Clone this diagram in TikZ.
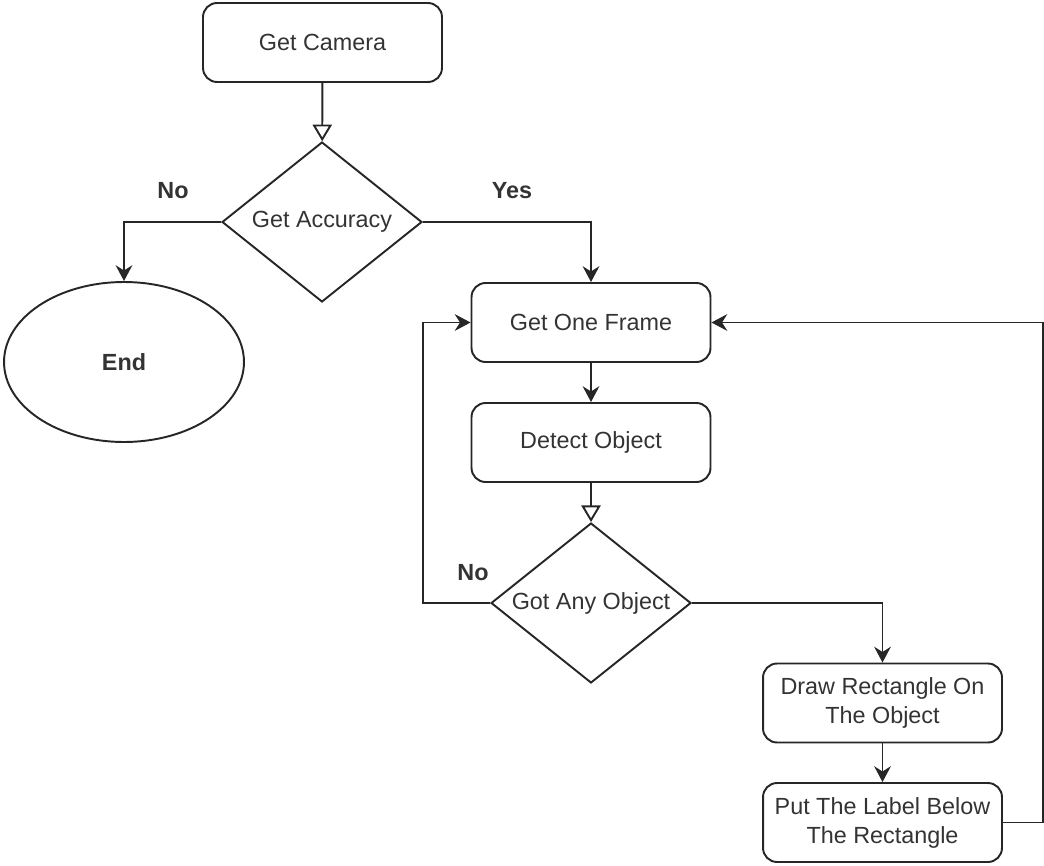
\documentclass[tikz,border=0pt]{standalone}
\usepackage{fontspec}
\setmainfont{Liberation Sans}
\usetikzlibrary{shapes.geometric,arrows.meta}

\tikzset{
  box/.style={draw, rounded corners=8pt, minimum width=4.78cm, minimum height=1.58cm, align=center, inner sep=2pt},
  choice/.style={draw, diamond, minimum width=4cm, minimum height=3.2cm, inner sep=0pt, aspect=1.25},
  flow/.style={-{Stealth[length=9pt,width=9.5pt,inset=3pt]}},
  hollow/.style={-{Triangle[open,length=9.5pt,width=11pt]}},
  answer/.style={font=\fontsize{13.3}{16}\selectfont\bfseries}
}

\begin{document}
\begin{tikzpicture}[x=0.02cm, y=-0.02cm, line width=1.1pt, draw=black!85, text=black!80,
  every node/.append style={font=\fontsize{13.3}{16.5}\selectfont}]
\useasboundingbox (0,0) rectangle (1044,865);

\node[box] (camera) at (322.5,42.5) {Get Camera};
\node[choice] (accuracy) at (322,222) {Get Accuracy};
\node[draw, ellipse, minimum width=4.8cm, minimum height=3.2cm, font=\fontsize{13.3}{16}\selectfont\bfseries] (end) at (124,362) {End};
\node[box] (frame) at (591,322.5) {Get One Frame};
\node[box] (detect) at (591,442.5) {Detect Object};
\node[choice] (anyobj) at (591,603) {Got Any Object};
\node[box] (drawrect) at (882.5,703) {Draw Rectangle On\\The Object};
\node[box] (putlabel) at (882.5,822.5) {Put The Label Below\\The Rectangle};

\node[answer] (no1) at (173,191) {No};
\node[answer] (yes) at (512,191) {Yes};
\node[answer] (no2) at (473,573) {No};

\draw[hollow] (camera) -- (accuracy);
\draw[flow] (accuracy.west) -| (end.north);
\draw[flow] (accuracy.east) -| (frame.north);
\draw[flow] (frame) -- (detect);
\draw[hollow] (detect) -- (anyobj);
\draw[flow] (anyobj.west) -- ++(-67,0) |- (frame.west);
\draw[flow] (anyobj.east) -| (drawrect.north);
\draw[flow] (drawrect) -- (putlabel);
\draw[flow] (putlabel.east) -- ++(40,0) |- (frame.east);
\end{tikzpicture}
\end{document}
